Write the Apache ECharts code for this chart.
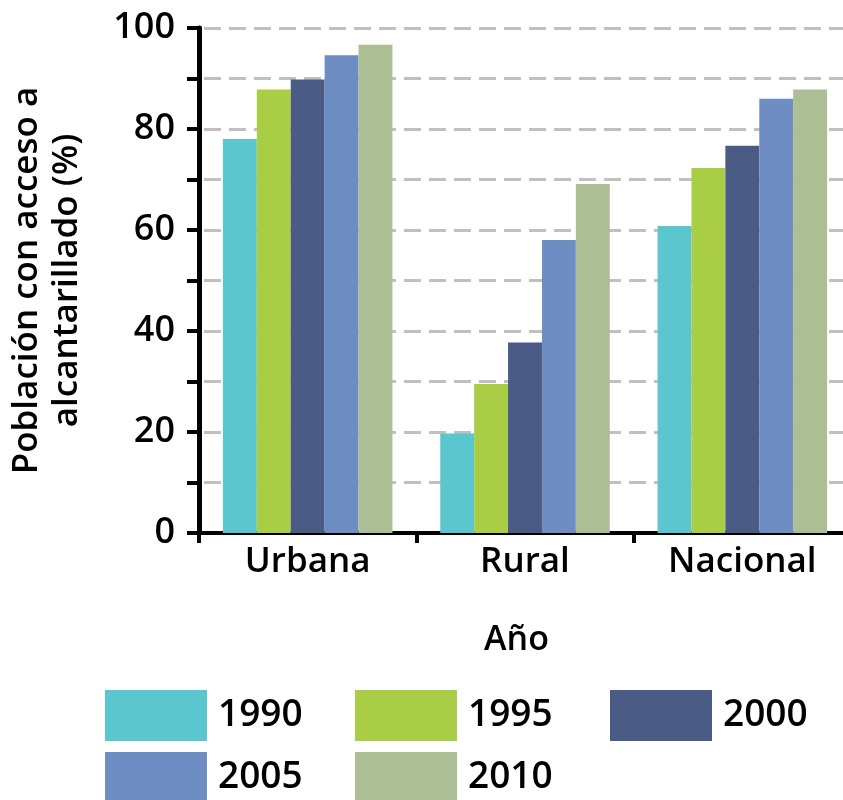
<!DOCTYPE html>
<html>
<head>
<meta charset="utf-8">
<script src="https://cdn.jsdelivr.net/npm/echarts@6/dist/echarts.min.js"></script>
<style>
html,body{margin:0;padding:0;background:#fff;}
#chart{width:843px;height:800px;}
</style>
</head>
<body>
<div id="chart"></div>
<script>
const categories = ['Urbana', 'Rural', 'Nacional'];
const years = ['1990', '1995', '2000', '2005', '2010'];
const v1990 = [78.0, 19.7, 60.8];
const v1995 = [87.8, 29.5, 72.3];
const v2000 = [89.8, 37.7, 76.7];
const v2005 = [94.6, 58.0, 86.0];
const v2010 = [96.7, 69.1, 87.8];
const yTicks = [0, 20, 40, 60, 80, 100];

const seriesValues = [v1990, v1995, v2000, v2005, v2010];
const colors = ['#5CC6CF', '#A9CD45', '#4A5C86', '#6D8DC3', '#ACBE93'];
const FONT = '"Open Sans", "Noto Sans", sans-serif';

const legendPos = [
  {left: 105, top: 690}, {left: 355, top: 690}, {left: 610, top: 690},
  {left: 105, top: 752}, {left: 355, top: 752}
];

const chart = echarts.init(document.getElementById('chart'), null, {renderer: 'canvas'});
chart.setOption({
  animation: false,
  backgroundColor: '#fff',
  textStyle: {fontFamily: FONT},
  grid: {left: 199, top: 28, width: 652, height: 505, containLabel: false, outerBoundsMode: 'none'},
  legend: years.map((y, i) => ({
    data: [y],
    left: legendPos[i].left,
    top: legendPos[i].top,
    itemWidth: 102,
    itemHeight: 51,
    icon: 'rect',
    padding: 0,
    selectedMode: false,
    textStyle: {fontSize: 37, color: '#000', fontFamily: FONT, fontWeight: 600, padding: [0, 0, 0, 6]}
  })),
  xAxis: {
    type: 'category',
    data: categories,
    name: 'Año',
    nameLocation: 'middle',
    nameGap: 90,
    nameTextStyle: {fontSize: 34, color: '#000', fontWeight: 600, fontFamily: FONT, padding: [0, 17, 0, 0]},
    axisLine: {show: true, lineStyle: {color: '#000', width: 4}},
    axisTick: {show: true, length: 10, lineStyle: {color: '#000', width: 4}},
    axisLabel: {fontSize: 35, color: '#000', fontWeight: 600, margin: 12, fontFamily: FONT},
    splitLine: {show: false}
  },
  yAxis: {
    type: 'value',
    min: 0,
    max: 100,
    interval: 10,
    name: 'Población con acceso a\nalcantarillado (%)',
    nameLocation: 'middle',
    nameGap: 112,
    nameTextStyle: {fontSize: 35, color: '#000', fontWeight: 600, lineHeight: 40, fontFamily: FONT},
    axisLine: {show: true, lineStyle: {color: '#000', width: 5}},
    axisTick: {show: true, length: 12, lineStyle: {color: '#000', width: 4}},
    axisLabel: {
      fontSize: 36, color: '#000', fontWeight: 600, margin: 24, fontFamily: FONT,
      formatter: v => (yTicks.indexOf(v) >= 0 ? String(v) : '')
    },
    splitLine: {show: true, lineStyle: {color: '#C0C0C0', width: 3, type: [17, 8], dashOffset: 20}}
  },
  series: years.map((y, i) => ({
    name: y,
    type: 'bar',
    data: seriesValues[i],
    barGap: '0%',
    barCategoryGap: '22%',
    itemStyle: {color: colors[i]}
  }))
});
</script>
</body>
</html>
